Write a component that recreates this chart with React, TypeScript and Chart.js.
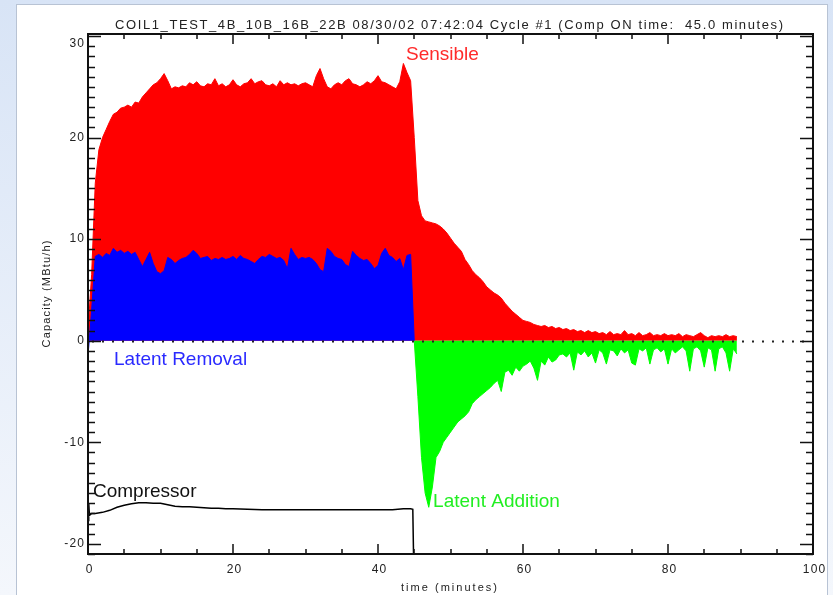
import React, { useEffect, useRef } from "react";
import { Chart, registerables } from "chart.js";

Chart.register(...registerables);

const TITLE = "COIL1_TEST_4B_10B_16B_22B 08/30/02 07:42:04 Cycle #1 (Comp ON time:  45.0 minutes)";
const X_TITLE = "time (minutes)";
const Y_TITLE = "Capacity (MBtu/h)";
const X_TICK_LABELS = [0, 20, 40, 60, 80, 100];
const Y_TICK_LABELS = [-20, -10, 0, 10, 20, 30];

// minutes between samples of the capacity series
const SAMPLE_STEP = 0.5;

const SENSIBLE_START = 0;
const SENSIBLE = [
  1.0, 6.5, 15.5, 18.8, 20.0, 20.8, 21.6, 22.3, 22.5, 22.9,
  23.0, 23.2, 23.0, 23.5, 23.4, 24.0, 24.4, 24.8, 25.2, 25.4,
  25.8, 26.3, 25.6, 24.8, 25.0, 24.9, 25.1, 25.0, 25.4, 25.2,
  25.5, 25.1, 25.0, 25.3, 25.2, 25.8, 25.1, 25.3, 25.0, 25.2,
  25.7, 25.2, 25.0, 25.3, 25.4, 25.8, 25.3, 25.5, 25.6, 25.2,
  25.1, 25.3, 25.0, 25.6, 25.2, 25.4, 25.2, 25.3, 25.1, 25.3,
  25.4, 25.2, 25.0, 26.1, 26.8, 25.8, 25.0, 24.8, 25.2, 25.4,
  25.2, 25.6, 25.8, 25.3, 25.2, 25.0, 25.2, 25.5, 25.3, 25.6,
  26.1, 25.5, 25.4, 25.2, 25.0, 24.8, 25.5, 27.3, 26.4, 25.6,
  20.0, 13.8, 12.3, 11.8, 11.7, 11.6, 11.5, 11.3, 11.0, 10.6,
  10.1, 9.6, 9.2, 8.8, 8.0, 7.5, 6.9, 6.5, 6.2, 5.8,
  5.3, 5.0, 4.7, 4.5, 4.2, 3.7, 3.3, 2.9, 2.6, 2.3,
  2.0, 1.9, 1.8, 1.6, 1.5, 1.4, 1.5, 1.3, 1.4, 1.2,
  1.3, 1.1, 1.2, 1.0, 1.1, 0.9, 1.0, 0.8, 1.0, 0.8,
  0.9, 0.7, 0.8, 0.6, 0.9, 0.6, 0.7, 0.6, 1.0, 0.6,
  0.7, 0.5, 0.8, 0.5, 0.6, 0.8, 0.5, 0.6, 0.5, 0.7,
  0.5, 0.6, 0.5, 0.7, 0.4, 0.6, 0.5, 0.4, 0.6, 0.8,
  0.5, 0.3, 0.5, 0.4, 0.5, 0.4, 0.6, 0.4, 0.5, 0.4,
];

const LATENT_REMOVAL_START = 0;
const LATENT_REMOVAL = [
  -1.5, 3.0, 8.3, 8.5, 8.2, 8.6, 8.4, 9.1, 8.7, 8.9,
  8.6, 8.8, 8.5, 8.7, 8.0, 7.3, 8.0, 8.7, 7.6, 6.8,
  6.6, 6.9, 8.2, 8.0, 7.6, 7.9, 8.1, 8.2, 8.5, 8.9,
  8.6, 8.1, 8.2, 8.3, 7.9, 8.1, 8.0, 8.2, 8.0, 8.1,
  8.3, 8.0, 8.4, 8.1, 8.0, 7.8, 7.6, 8.0, 8.3, 8.2,
  8.5, 8.3, 8.1, 8.2, 7.9, 7.1, 9.1, 8.5, 8.0, 8.2,
  8.1, 8.2, 8.0, 7.6, 7.0, 6.8, 9.1, 8.8, 8.3, 8.1,
  8.0, 7.5, 7.3, 8.8, 8.4, 8.1, 7.9, 8.0, 7.6, 7.1,
  7.4, 8.6, 9.1, 8.4, 8.2, 7.8, 8.1, 7.0, 8.4, 8.5,
  0,
];

const LATENT_ADDITION_START = 45;
const LATENT_ADDITION = [
  0, -5.5, -11.5, -15.0, -16.4, -14.4, -11.5, -10.9, -10.0, -9.5,
  -9.0, -8.5, -8.0, -7.7, -7.4, -7.0, -6.2, -5.8, -5.5, -5.2,
  -4.9, -4.6, -4.2, -3.9, -5.0, -3.1, -2.9, -3.4, -2.6, -3.0,
  -2.5, -2.3, -2.0, -2.7, -3.9, -2.0, -2.4, -1.6, -2.1, -1.9,
  -1.4, -1.3, -1.6, -1.2, -2.9, -1.1, -1.4, -1.0, -1.6, -1.2,
  -2.2, -0.9, -1.2, -2.3, -0.9, -1.0, -1.5, -0.8, -1.2, -0.9,
  -2.2, -2.4, -0.8, -1.0, -0.7, -2.3, -0.9, -0.7, -1.1, -0.8,
  -2.3, -0.8, -1.2, -0.9, -0.6, -1.0, -3.0, -0.8, -0.6, -1.0,
  -2.6, -0.7, -0.9, -3.0, -0.8, -0.6, -1.2, -3.0, -0.8, -1.3,
];

const COMPRESSOR_TIME = [
  0, 0.1, 0.2, 0.5, 1, 2, 3, 4, 5, 6, 7, 8, 9, 10, 11, 12, 13, 14, 15, 16,
  17, 18, 19, 20, 22, 24, 26, 28, 30, 32, 34, 36, 38, 40, 42, 43.5, 44.5, 44.8, 44.9,
];
const COMPRESSOR = [
  -17.7, -16.0, -17.2, -17.0, -17.0, -16.9, -16.7, -16.4, -16.2, -16.05, -15.95, -15.95, -16.0, -16.0, -16.15, -16.3, -16.35, -16.35, -16.4, -16.45,
  -16.5, -16.5, -16.55, -16.55, -16.6, -16.65, -16.65, -16.65, -16.65, -16.65, -16.65, -16.65, -16.65, -16.65, -16.65, -16.55, -16.55, -16.6, -21,
];

const FONT = "'Liberation Sans', Arial, sans-serif";

function series(values: number[], start: number) {
  return values.map((v, i) => ({ x: start + i * SAMPLE_STEP, y: v }));
}

function drawSpaced(
  ctx: any,
  text: string,
  x: number,
  y: number,
  font: string,
  color: string,
  spacing: number | null,
  target: number | null,
  align: "left" | "center" | "right"
) {
  ctx.font = font;
  ctx.letterSpacing = "0px";
  const w = ctx.measureText(text).width;
  const n = text.length;
  let sp = spacing ?? 0;
  if (target != null && n > 1) sp = Math.max(0, (target - w) / (n - 1));
  ctx.letterSpacing = sp + "px";
  const total = w + sp * (n - 1);
  const sx = align === "left" ? x : align === "center" ? x - total / 2 : x - total;
  ctx.textAlign = "left";
  ctx.fillStyle = color;
  ctx.fillText(text, sx, y);
  ctx.letterSpacing = "0px";
}

const decorPlugin = {
  id: "decor",
  beforeDraw(chart: any) {
    const { ctx, width, height } = chart;
    ctx.save();
    const g = ctx.createLinearGradient(0, 0, 0, height);
    g.addColorStop(0, "#d8e4f6");
    g.addColorStop(1, "#f4f7fc");
    ctx.fillStyle = g;
    ctx.fillRect(0, 0, width, height);
    ctx.fillStyle = "#ffffff";
    ctx.fillRect(17, 4, 811, height - 4);
    ctx.strokeStyle = "#b8c3d4";
    ctx.lineWidth = 1;
    ctx.strokeRect(16.5, 4.5, 811, height);
    ctx.restore();
  },
  afterDatasetsDraw(chart: any) {
    const { ctx, chartArea: a, scales } = chart;
    const xs = scales.x;
    const ys = scales.y;
    ctx.save();

    // dotted zero line
    const y0 = Math.round(ys.getPixelForValue(0)) + 0.5;
    ctx.setLineDash([2, 8]);
    ctx.lineWidth = 2;
    ctx.strokeStyle = "#222";
    ctx.beginPath();
    ctx.moveTo(a.left + 4, y0);
    ctx.lineTo(a.right, y0);
    ctx.stroke();
    ctx.setLineDash([]);

    // ticks
    ctx.strokeStyle = "#111";
    ctx.lineWidth = 1.5;
    ctx.beginPath();
    for (let v = 0; v <= 100; v += 5) {
      const px = Math.round(xs.getPixelForValue(v));
      const len = v % 20 === 0 ? 10 : 5;
      ctx.moveTo(px, a.bottom);
      ctx.lineTo(px, a.bottom - len);
      ctx.moveTo(px, a.top);
      ctx.lineTo(px, a.top + len);
    }
    for (let v = -21; v <= 30; v += 1) {
      const py = Math.round(ys.getPixelForValue(v)) + 0.5;
      const len = v % 10 === 0 ? 13 : 7;
      ctx.moveTo(a.left, py);
      ctx.lineTo(a.left + len, py);
      ctx.moveTo(a.right, py);
      ctx.lineTo(a.right - len, py);
    }
    ctx.stroke();

    // frame
    ctx.lineWidth = 2;
    ctx.strokeStyle = "#111";
    ctx.strokeRect(a.left, a.top, a.right - a.left, a.bottom - a.top);

    // tick labels
    ctx.textBaseline = "middle";
    const tickFont = `12px ${FONT}`;
    X_TICK_LABELS.forEach((v) => {
      drawSpaced(ctx, String(v), xs.getPixelForValue(v) + 1, 570, tickFont, "#222", 1.2, null, "center");
    });
    Y_TICK_LABELS.forEach((v) => {
      const py = Math.max(ys.getPixelForValue(v), a.top + 10);
      drawSpaced(ctx, String(v), 84, py, tickFont, "#222", 1.2, null, "right");
    });

    // axis titles
    drawSpaced(ctx, X_TITLE, 449, 588, `11px ${FONT}`, "#222", null, 96, "center");
    ctx.save();
    ctx.translate(47, 294);
    ctx.rotate(-Math.PI / 2);
    drawSpaced(ctx, Y_TITLE, 0, 0, `11px ${FONT}`, "#222", null, 107, "center");
    ctx.restore();

    // title
    ctx.textBaseline = "alphabetic";
    drawSpaced(ctx, TITLE, 115, 29, `13px ${FONT}`, "#222", null, 668, "left");

    // series labels (anchored in data coordinates)
    const lab = (text: string, x: number, y: number, color: string) => {
      ctx.font = `19px ${FONT}`;
      ctx.textAlign = "left";
      ctx.fillStyle = color;
      ctx.fillText(text, xs.getPixelForValue(x), ys.getPixelForValue(y));
    };
    lab("Sensible", 43.86, 27.6, "#ff2a2a");
    lab("Latent Removal", 3.59, -2.41, "#2a2aff");
    lab("Latent Addition", 47.6, -16.4, "#22ee22");
    lab("Compressor", 0.69, -15.4, "#111111");

    ctx.restore();
  },
};

export default function App() {
  const ref = useRef<HTMLCanvasElement | null>(null);

  useEffect(() => {
    document.body.style.margin = "0";
    const canvas = ref.current;
    if (!canvas) return;
    const chart = new Chart(canvas, {
      type: "line",
      data: {
        datasets: [
          {
            label: "Latent Removal",
            data: series(LATENT_REMOVAL, LATENT_REMOVAL_START),
            borderColor: "#0000ff",
            backgroundColor: "#0000ff",
            borderWidth: 1,
            fill: "origin",
            pointRadius: 0,
            tension: 0,
            order: 0,
          },
          {
            label: "Compressor",
            data: COMPRESSOR_TIME.map((t, i) => ({ x: t, y: COMPRESSOR[i] })),
            borderColor: "#000000",
            backgroundColor: "#000000",
            borderWidth: 1.5,
            fill: false,
            pointRadius: 0,
            tension: 0,
            order: 0,
          },
          {
            label: "Latent Addition",
            data: series(LATENT_ADDITION, LATENT_ADDITION_START),
            borderColor: "#00ff00",
            backgroundColor: "#00ff00",
            borderWidth: 1,
            fill: "origin",
            pointRadius: 0,
            tension: 0,
            order: 1,
          },
          {
            label: "Sensible",
            data: series(SENSIBLE, SENSIBLE_START),
            borderColor: "#ff0000",
            backgroundColor: "#ff0000",
            borderWidth: 1,
            fill: "origin",
            pointRadius: 0,
            tension: 0,
            order: 2,
          },
        ],
      },
      options: {
        animation: false,
        responsive: false,
        devicePixelRatio: 1,
        layout: { padding: { left: 88, right: 20, top: 34, bottom: 41 } },
        scales: {
          x: { type: "linear", min: 0, max: 100, display: false },
          y: { type: "linear", min: -21, max: 30.2, display: false },
        },
        plugins: {
          legend: { display: false },
          tooltip: { enabled: false },
          title: { display: false },
        },
      },
      plugins: [decorPlugin],
    });
    return () => chart.destroy();
  }, []);

  return <canvas ref={ref} width={833} height={595} style={{ display: "block" }} />;
}
